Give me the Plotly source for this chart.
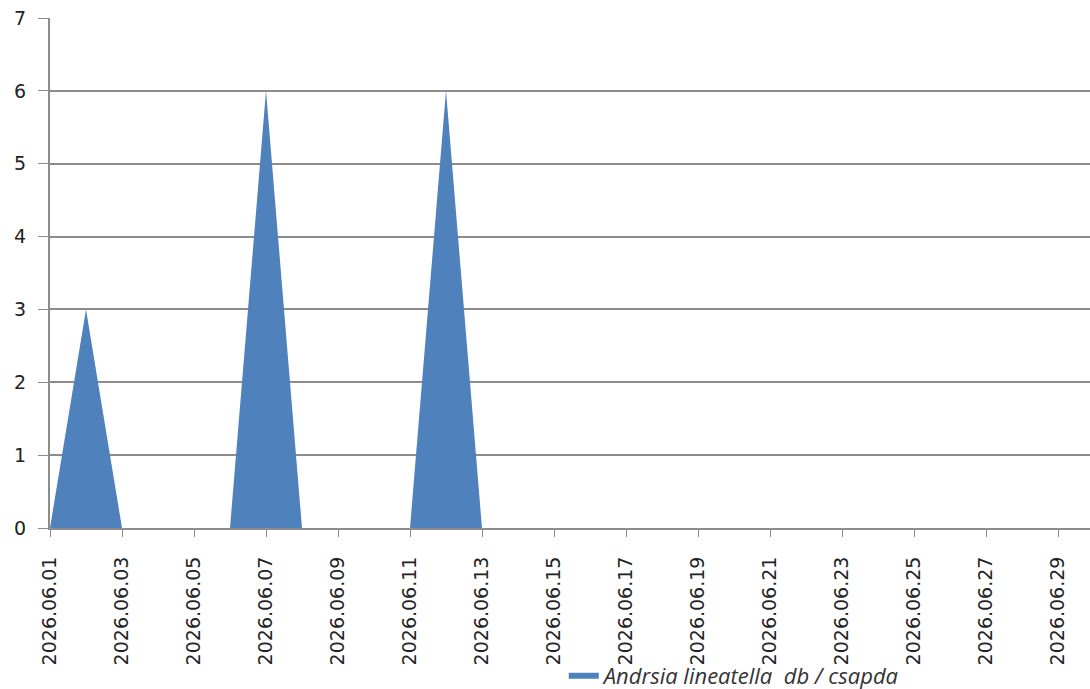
import pandas as pd
import plotly.graph_objects as go

# Adatok: napi fogás / csapda (2026. június)
dates = pd.date_range("2026-06-01", "2026-06-30", freq="D")
counts = [0, 3, 0, 0, 0, 0, 6, 0, 0, 0,
          0, 6, 0, 0, 0, 0, 0, 0, 0, 0,
          0, 0, 0, 0, 0, 0, 0, 0, 0, 0]
series_name = "<i>Andrsia lineatella\u00a0\u00a0db / csapda</i>"

COLOR_AREA = "#4F81BD"
COLOR_GRID = "#8C8C8C"
FONT = "DejaVu Sans"

fig = go.Figure()
fig.add_trace(go.Scatter(
    x=dates,
    y=counts,
    mode="none",
    fill="tozeroy",
    fillcolor=COLOR_AREA,
    name=series_name,
    showlegend=True,
))

# Excel-szerű tengely: a jobb szél a 30. nap előtt levágva
x_end = pd.Timestamp("2026-06-01") + pd.Timedelta(days=(1090 - 50) / 36)

fig.update_layout(
    width=1090,
    height=689,
    margin=dict(l=50, r=0, t=18, b=161, autoexpand=False),
    plot_bgcolor="white",
    paper_bgcolor="white",
    font=dict(family=FONT, size=19, color="#222222"),
    showlegend=True,
    legend=dict(
        x=0.494, y=-0.29, xanchor="left", yanchor="middle",
        bgcolor="rgba(0,0,0,0)",
        font=dict(family="Open Sans", size=22, color="#333333"),
        itemwidth=30,
    ),
    xaxis=dict(
        type="date",
        range=[dates[0], x_end],
        tick0=dates[0],
        dtick=2 * 86400000,
        tickformat="%Y.%m.%d",
        tickangle=-90,
        ticks="outside",
        ticklen=7,
        tickcolor=COLOR_GRID,
        showline=True,
        linecolor=COLOR_GRID,
        linewidth=2,
        showgrid=False,
        zeroline=False,
        automargin=False,
        ticklabelstandoff=12,
    ),
    yaxis=dict(
        range=[0, 7],
        dtick=1,
        ticks="outside",
        ticklen=10,
        tickcolor=COLOR_GRID,
        showline=True,
        linecolor=COLOR_GRID,
        linewidth=2,
        showgrid=True,
        gridcolor=COLOR_GRID,
        gridwidth=2,
        zeroline=False,
        automargin=False,
        ticklabelstandoff=8,
    ),
)

# a böngésző alapértelmezett 8px-es margója nélkül
fig.write_html(
    "out.html",
    config={"displayModeBar": False},
    post_script="document.body.style.margin='0';",
)
